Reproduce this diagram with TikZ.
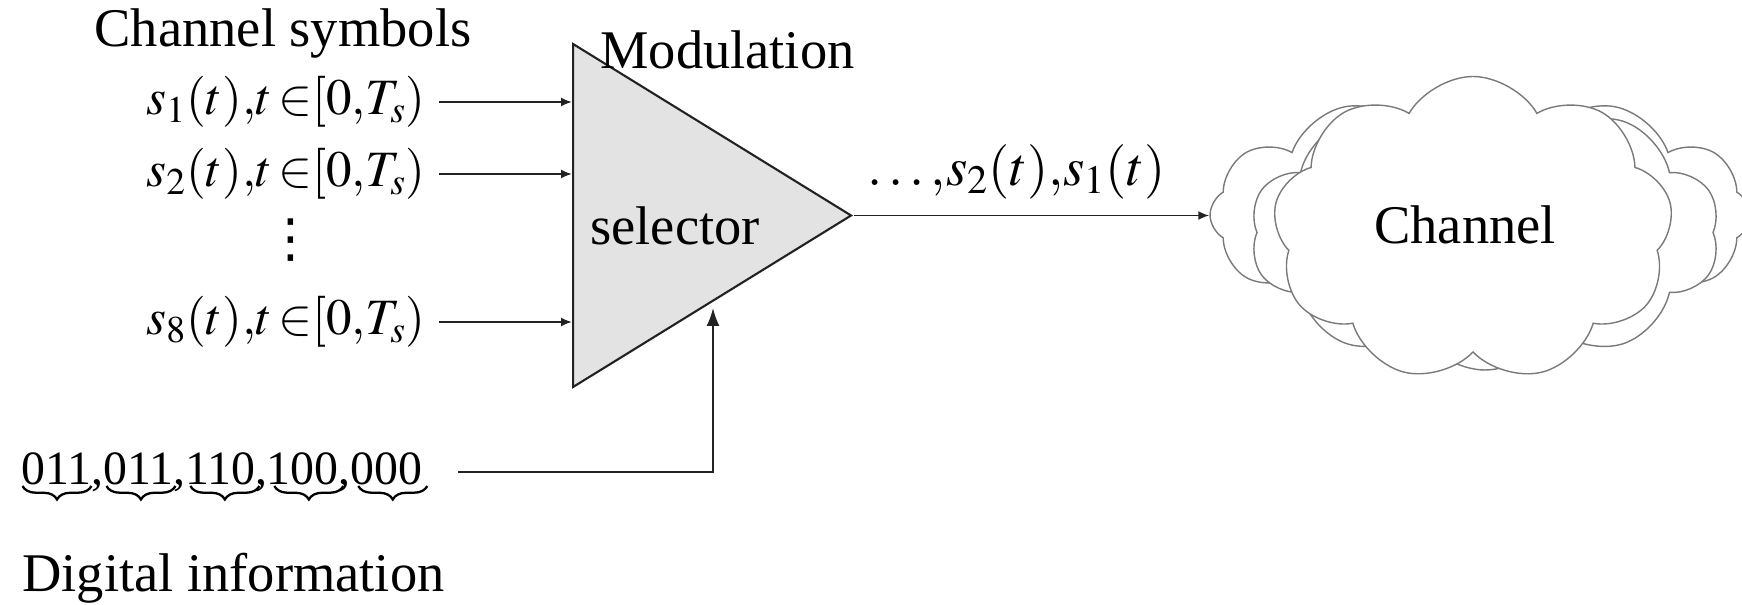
\documentclass[tikz,border=0pt]{standalone}
\usepackage{mathptmx}
\usepackage{fontspec}
\setmainfont{Liberation Serif}
\newfontfamily\vdotfont{DejaVu Sans}
\usetikzlibrary{arrows.meta,positioning,calc,shapes.geometric,shapes.symbols,
                decorations.pathreplacing}
\definecolor{selfill}  {HTML}{E3E3E3}
\definecolor{selrule}  {HTML}{222222}
\definecolor{cloudrule}{HTML}{7A7A7A}

\begin{document}
\begin{tikzpicture}[
    lbl/.style={font=\fontsize{31}{37}\selectfont, inner sep=0pt},
    sym/.style={font=\fontsize{29}{35}\selectfont, inner sep=0pt},
    bitlbl/.style={font=\fontsize{27.2}{32}\selectfont, inner sep=0pt},
    sig/.style={draw=selrule, line width=1.1pt, -{Latex[length=2.2mm,width=1.8mm]}},
    bitbrace/.style={decorate, decoration={brace, mirror, amplitude=0.27cm}, line width=1.3pt},
    puff/.style={cloud, cloud puffs=#1, cloud puff arc=120, draw=cloudrule,
                 fill=white, line width=0.8pt, aspect=1.7}]
  \useasboundingbox (0,0) rectangle (34.84,12.1);
  % selector
  \node[isosceles triangle, isosceles triangle stretches, draw=selrule, fill=selfill,
        line width=1.2pt, minimum width=6.86cm, minimum height=5.56cm,
        inner sep=0pt, anchor=west] (tri) at (11.44,7.79) {};
  \node[lbl] (chsym) at (5.66,11.44) {Channel symbols};
  \node[lbl, anchor=west] (modu) at (12.0,11.1) {Modulation};
  \node[lbl, anchor=base west] (sel) at (11.8,7.2) {selector};
  \foreach \i/\y in {1/10.06, 2/8.62, 8/5.66}
    {\node[sym, anchor=east] (s\i) at (8.52,\y) {$s_{\i}(t){,}t\,{\in}[0{,}T_s)$};
     \draw[sig] ([xshift=0.26cm]s\i.east) -- (s\i.east -| tri.west);}
  \node[font=\vdotfont\fontsize{30}{36}\selectfont, inner sep=0pt] (vd) at (5.82,7.3) {⋮};
  % channel
  \node[puff=12, minimum width=10.8cm, minimum height=5cm] (back) at (29.6,7.8) {};
  \node[puff=10, minimum width=9.4cm, minimum height=5.5cm] (mid) at (29.7,7.45) {};
  \node[puff=9, minimum width=8cm, minimum height=6.1cm] (chcloud) at (29.46,7.52) {};
  \node[lbl, anchor=base] (chan) at (29.3,7.22) {Channel};
  \draw[sig] (tri.apex) -- (tri.apex -| back.west);
  \node[lbl] (seq) at (20.33,8.66) {$\ldots{,}s_2(t){,}s_1(t)$};
  % digital information
  \node[bitlbl, anchor=base west] (bits) at (0.42,2.4) {011,011,110,100,000};
  \foreach \k in {0,...,4}
    \draw[bitbrace] ($(bits.base west)+(\k*1.679+0.03,-0.02)$) -- ($(bits.base west)+(\k*1.679+1.41,-0.02)$);
  \node[lbl, anchor=west] (diginf) at (0.44,0.54) {Digital information};
  \coordinate (bitsout) at (9.16,2.66);
  \coordinate (selin) at (14.26,5.94);
  \draw[sig, -{Latex[length=3.6mm,width=2.6mm]}] (bitsout) -| (selin);
\end{tikzpicture}
\end{document}
